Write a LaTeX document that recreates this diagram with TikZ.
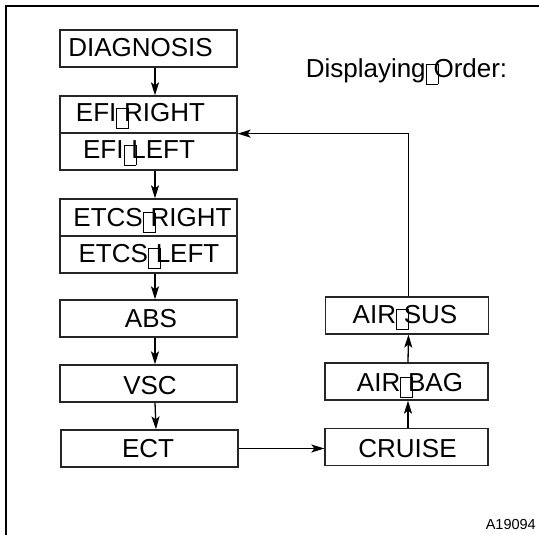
\documentclass[tikz,border=0pt]{standalone}
\usepackage{fontspec}
\setmainfont{Liberation Sans}
\usetikzlibrary{arrows.meta}
\newcommand\tofu{\rlap{\raisebox{-0.22em}{\setlength\fboxsep{0pt}\setlength\fboxrule{0.6pt}\fbox{\rule{0pt}{0.74em}\hspace{0.44em}}}}\hspace{0.3em}}
\tikzset{
  box/.style={draw=black!85, line width=1.3pt, minimum width=177pt, minimum height=37pt, inner sep=0pt},
  rbox/.style={draw=black!85, line width=1.3pt, minimum width=163pt, minimum height=37pt, inner sep=0pt},
  txt/.style={anchor=base, inner sep=0pt, font=\fontsize{26}{30}\selectfont},
  arr/.style={line width=1.3pt, -{Stealth[length=13pt,width=8pt,inset=3pt]}}
}
\begin{document}
\begin{tikzpicture}[x=1pt,y=-1pt]
\useasboundingbox (0,0) rectangle (539,535);
% frame
\draw[line width=2.6pt] (6,535) -- (6,6) -- (539,6);
% left column boxes
\node[box] (diag) at (148.5,48.5) {};
\node[box] (efiR) at (148.5,114.5) {};
\node[box] (efiL) at (148.5,151.5) {};
\node[box] (etcsR) at (148.5,217.5) {};
\node[box] (etcsL) at (148.5,254.5) {};
\node[box] (abs) at (148.5,318.5) {};
\node[box] (vsc) at (148.5,383.5) {};
\node[box] (ect) at (149.5,448.5) {};
% right column boxes
\node[rbox] (cruise) at (406.5,447) {};
\node[rbox] (airbag) at (406.5,381.5) {};
\node[rbox] (airsus) at (407,315.5) {};
% texts
\node[txt] (tdiag) at (140.5,57) {DIAGNOSIS};
\node[txt] (tefiR) at (140.5,122) {EFI\tofu RIGHT};
\node[txt] (tefiL) at (139,159) {EFI\tofu LEFT};
\node[txt] (tetcsR) at (152.5,226.5) {ETCS\tofu RIGHT};
\node[txt] (tetcsL) at (149,262.5) {ETCS\tofu LEFT};
\node[txt] (tabs) at (151,327.5) {ABS};
\node[txt] (tvsc) at (150,394) {VSC};
\node[txt] (tect) at (148,457) {ECT};
\node[txt] (tcruise) at (407.5,457) {CRUISE};
\node[txt] (tairbag) at (410,391.5) {AIR\tofu BAG};
\node[txt] (tairsus) at (405,323.5) {AIR\tofu SUS};
\node[txt] (tdisp) at (406.5,78) {Displaying\tofu Order:};
\node[anchor=base east, inner sep=0pt, font=\fontsize{14.5}{16}\selectfont] (tcode) at (536,529) {A19094};
% connectors
\draw[arr] ([xshift=6.5pt]diag.south) -- ([xshift=6.5pt]efiR.north);
\draw[arr] ([xshift=6.5pt]efiL.south) -- ([xshift=6.5pt]etcsR.north);
\draw[arr] ([xshift=6.5pt]etcsL.south) -- ([xshift=6.5pt]abs.north);
\draw[arr] ([xshift=6.5pt]abs.south) -- ([xshift=6.5pt]vsc.north);
\draw[arr] ([xshift=6.5pt]vsc.south) -- ([xshift=6.5pt]ect.north);
\draw[arr] (ect.east) -- (cruise.west |- ect.east);
\draw[arr] ([xshift=1.5pt]cruise.north) -- ([xshift=1.5pt]airbag.south);
\draw[arr] ([xshift=1.5pt]airbag.north) -- ([xshift=1.5pt]airsus.south);
\draw[arr] ([xshift=1.5pt]airsus.north) |- (efiR.south east);
\end{tikzpicture}
\end{document}
